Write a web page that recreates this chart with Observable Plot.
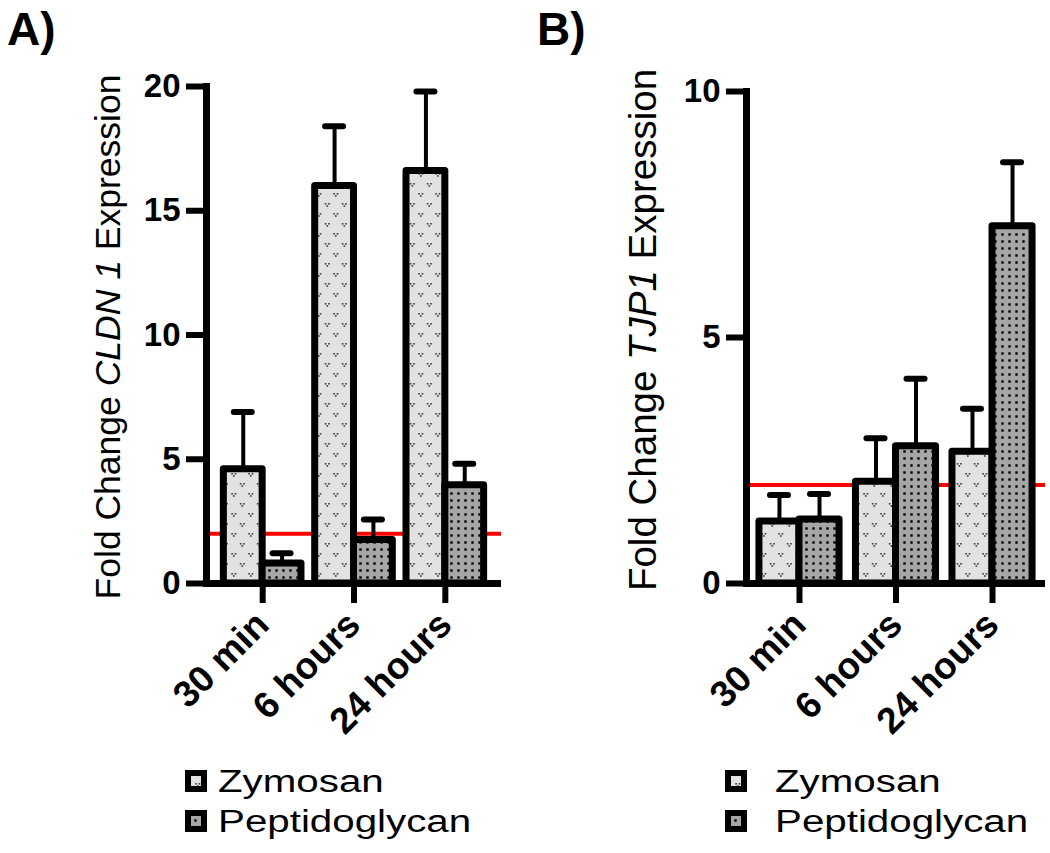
<!DOCTYPE html>
<html><head><meta charset="utf-8">
<script src="https://cdn.jsdelivr.net/npm/d3@7"></script>
<script src="https://cdn.jsdelivr.net/npm/@observablehq/plot@0.6"></script>
<style>
html,body{margin:0;padding:0;background:#fff;}
#root{position:relative;width:1050px;height:853px;overflow:hidden;font-family:"Liberation Sans",Arial,Helvetica,sans-serif;background:#fff;}
.panel{position:absolute;top:0;}
.lg-row{position:absolute;display:flex;align-items:center;white-space:nowrap;height:31px;}
.lg-row svg{display:block;flex:none;}
.lg-txt{font-size:31px;line-height:31px;transform:scaleX(1.3);transform-origin:left center;color:#000;}
</style></head><body>
<svg width="0" height="0" style="position:absolute;left:0;top:0">
<defs>
<pattern id="patZ" width="17" height="20" patternUnits="userSpaceOnUse">
<rect width="17" height="20" fill="#e2e2e2"/>
<g fill="#3a3a3a">
<rect x="1.8" y="3" width="1.6" height="1.6"/><rect x="5.2" y="3" width="1.6" height="1.6"/><rect x="3.5" y="5.2" width="1.6" height="1.6"/>
<rect x="10.3" y="13" width="1.6" height="1.6"/><rect x="13.7" y="13" width="1.6" height="1.6"/><rect x="12" y="15.2" width="1.6" height="1.6"/>
</g>
</pattern>
<pattern id="patP" width="7" height="7" patternUnits="userSpaceOnUse">
<rect width="7" height="7" fill="#a6a6a6"/>
<rect x="2.3" y="2.3" width="2.4" height="2.4" fill="#000"/>
</pattern>
</defs>
</svg>
<div id="root"></div>
<script>
// ---- data ----
const categories = ["30 min", "6 hours", "24 hours"];
const seriesNames = ["Zymosan", "Peptidoglycan"];
// Panel A: CLDN 1
const cldn1Zymosan = [4.6, 16.0, 16.6];
const cldn1ZymosanSEM = [2.3, 2.4, 3.2];
const cldn1Peptidoglycan = [0.8, 1.75, 3.95];
const cldn1PeptidoglycanSEM = [0.42, 0.83, 0.87];
const cldn1Ticks = [0, 5, 10, 15, 20];
// Panel B: TJP1
const tjp1Zymosan = [1.26, 2.07, 2.68];
const tjp1ZymosanSEM = [0.54, 0.88, 0.87];
const tjp1Peptidoglycan = [1.30, 2.79, 7.26];
const tjp1PeptidoglycanSEM = [0.52, 1.37, 1.30];
const tjp1Ticks = [0, 5, 10];
const threshold = [2];

const patterns = {Zymosan: "url(#patZ)", Peptidoglycan: "url(#patP)"};
const root = document.getElementById("root");

function makeRows(z, zs, p, ps) {
  const rows = [];
  categories.forEach((c, i) => {
    rows.push({cat: c, series: "Zymosan", mean: z[i], upper: z[i] + zs[i]});
    rows.push({cat: c, series: "Peptidoglycan", mean: p[i], upper: p[i] + ps[i]});
  });
  return rows;
}

function panel(cfg) {
  const {left, width, marginLeft, marginRight, marginTop, yMax, ticks, pi, po, rows, gene, labelX, labelY, labelSize, letter, legendSw, legendTxt} = cfg;
  const height = 745, marginBottom = 162;
  const bw = d3.scaleBand().domain(categories).range([marginLeft, width - marginRight]).paddingInner(pi).paddingOuter(po).bandwidth();
  const q = bw / 4, capHalf = 9;
  const Z = rows.filter(d => d.series === "Zymosan");
  const P = rows.filter(d => d.series === "Peptidoglycan");
  const chart = Plot.plot({
    width, height, marginLeft, marginRight, marginTop, marginBottom,
    x: {domain: categories, paddingInner: pi, paddingOuter: po, round: false},
    y: {domain: [0, yMax]},
    style: {fontFamily: '"Liberation Sans", Arial, Helvetica, sans-serif', fontSize: "32px", fontWeight: "bold", color: "#000", background: "#fff", overflow: "visible", maxWidth: "none"},
    marks: [
      Plot.ruleY(threshold, {stroke: "#ff0000", strokeWidth: 4}),
      Plot.barY(Z, {x: "cat", y: "mean", fill: patterns.Zymosan, stroke: "#000", strokeWidth: 7, strokeLinejoin: "round", insetRight: bw / 2}),
      Plot.barY(P, {x: "cat", y: "mean", fill: patterns.Peptidoglycan, stroke: "#000", strokeWidth: 7, strokeLinejoin: "round", insetLeft: bw / 2}),
      Plot.ruleX(Z, {x: "cat", y1: "mean", y2: "upper", dx: -q, stroke: "#000", strokeWidth: 4}),
      Plot.ruleX(P, {x: "cat", y1: "mean", y2: "upper", dx: q, stroke: "#000", strokeWidth: 4}),
      Plot.tickY(Z, {x: "cat", y: "upper", insetLeft: q - capHalf, insetRight: bw - q - capHalf, stroke: "#000", strokeWidth: 6, strokeLinecap: "round"}),
      Plot.tickY(P, {x: "cat", y: "upper", insetLeft: 3 * q - capHalf, insetRight: q - capHalf, stroke: "#000", strokeWidth: 6, strokeLinecap: "round"}),
      Plot.ruleY([0], {stroke: "#000", strokeWidth: 7}),
      Plot.frame({anchor: "left", stroke: "#000", strokeWidth: 7}),
      Plot.axisY({ticks, tickSize: 20, tickPadding: 6, strokeWidth: 6, label: null, fontSize: 33, tickFormat: d => String(d)}),
      Plot.axisX({tickSize: 20, strokeWidth: 6, tickRotate: -45, tickPadding: 15, label: null, fontSize: 37})
    ]
  });
  const svg = d3.select(chart);
  const t = svg.append("text")
    .attr("transform", `translate(${labelX},${labelY}) rotate(-90)`)
    .attr("text-anchor", "middle")
    .attr("font-size", labelSize).attr("font-weight", "normal").attr("fill", "#000");
  t.append("tspan").text("Fold Change ");
  t.append("tspan").attr("font-style", "italic").text(gene);
  t.append("tspan").text(" Expression");
  svg.append("text").attr("x", 7).attr("y", 45).attr("text-anchor", "start")
    .attr("font-size", 46).attr("font-weight", "bold").attr("fill", "#000").text(letter);
  const div = document.createElement("div");
  div.className = "panel";
  div.style.left = left + "px";
  div.style.width = width + "px";
  div.appendChild(chart);
  root.appendChild(div);
  // legend (below the SVG)
  const rowsY = [781, 821];
  seriesNames.forEach((s, i) => {
    const r = document.createElement("div");
    r.className = "lg-row";
    r.style.left = (left + legendSw) + "px";
    r.style.top = (rowsY[i] - 15.5) + "px";
    r.innerHTML = `<svg width="22" height="22"><rect width="22" height="22" fill="#000"/><rect x="6" y="6" width="10" height="10" fill="${patterns[s]}"/></svg><span class="lg-txt" style="margin-left:${legendTxt - legendSw - 22}px">${s}</span>`;
    root.appendChild(r);
  });
}

panel({
  left: 0, width: 530, marginLeft: 206, marginRight: 29, marginTop: 86,
  yMax: 20, ticks: cldn1Ticks, pi: 0.15, po: 0.19,
  rows: makeRows(cldn1Zymosan, cldn1ZymosanSEM, cldn1Peptidoglycan, cldn1PeptidoglycanSEM),
  gene: "CLDN 1", labelX: 120, labelY: 337, labelSize: 35.5, letter: "A)", legendSw: 185, legendTxt: 218
});
panel({
  left: 530, width: 520, marginLeft: 216, marginRight: 5, marginTop: 91,
  yMax: 10, ticks: tjp1Ticks, pi: 0.17, po: 0.134,
  rows: makeRows(tjp1Zymosan, tjp1ZymosanSEM, tjp1Peptidoglycan, tjp1PeptidoglycanSEM),
  gene: "TJP1", labelX: 126, labelY: 330, labelSize: 38.5, letter: "B)", legendSw: 195, legendTxt: 245
});
</script>
</body></html>
